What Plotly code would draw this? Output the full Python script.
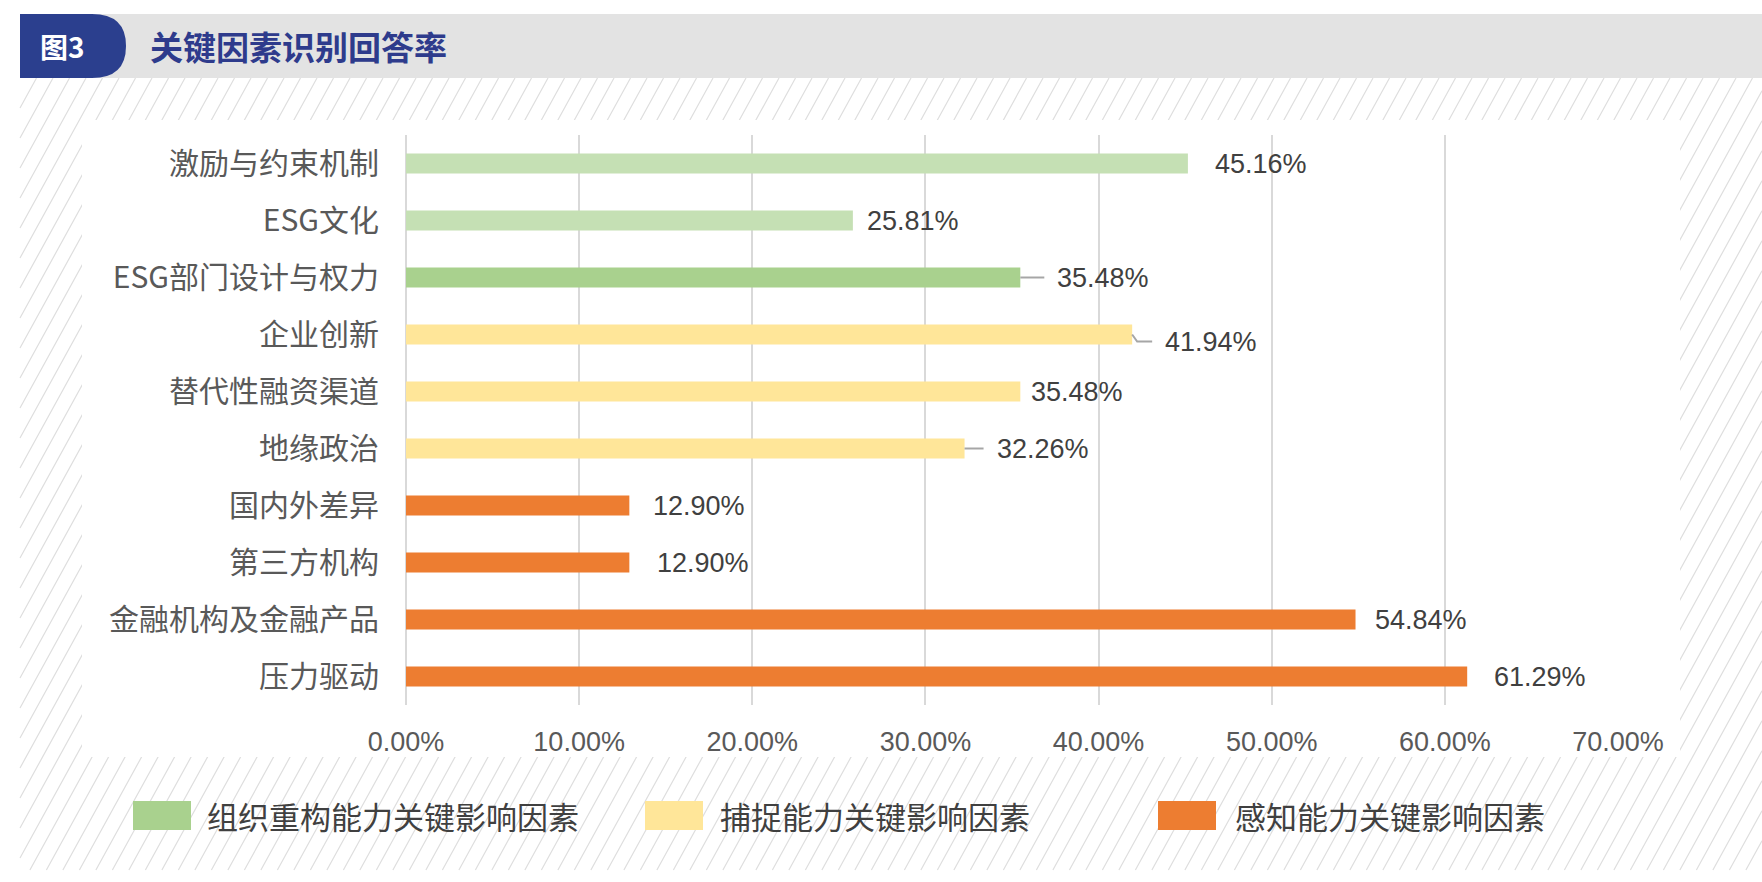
import plotly.graph_objects as go

# ---------------- data ----------------
categories = ["激励与约束机制", "ESG文化", "ESG部门设计与权力", "企业创新", "替代性融资渠道",
              "地缘政治", "国内外差异", "第三方机构", "金融机构及金融产品", "压力驱动"]
values = [0.4516, 0.2581, 0.3548, 0.4194, 0.3548, 0.3226, 0.1290, 0.1290, 0.5484, 0.6129]
groups = ["组织重构能力关键影响因素"] * 3 + ["捕捉能力关键影响因素"] * 3 + ["感知能力关键影响因素"] * 4
group_names = ["组织重构能力关键影响因素", "捕捉能力关键影响因素", "感知能力关键影响因素"]
x_ticks = [0, 0.1, 0.2, 0.3, 0.4, 0.5, 0.6, 0.7]
title_tag = "图3"
title_text = "关键因素识别回答率"

# ---------------- styles ----------------
bar_colors = ["#C5E0B4", "#C5E0B4", "#A9D18E", "#FFE699", "#FFE699", "#FFE699",
              "#ED7D31", "#ED7D31", "#ED7D31", "#ED7D31"]
legend_colors = ["#A9D18E", "#FFE699", "#ED7D31"]
label_gap_px = [25, 12, 35, 31, 9, 30, 22, 26, 17, 25]
label_dy_px = [0, 0, 0, 7, 0, 0, 0, 0, 0, 0]
leader_len_px = [0, 0, 24, 20, 0, 19, 0, 0, 0, 0]

W, H = 1762, 882
ML, MR, MT, MB = 406, 144, 135, 177
PW, PH = W - ML - MR, H - MT - MB


def px(x):
    return (x - ML) / PW


def py(y):
    return (H - MB - y) / PH


fig = go.Figure()
for g in group_names:
    idx = [i for i, gg in enumerate(groups) if gg == g]
    fig.add_trace(go.Bar(
        x=[values[i] for i in idx],
        y=[categories[i] for i in idx],
        orientation="h",
        name=g,
        width=0.35,
        marker=dict(color=[bar_colors[i] for i in idx], line=dict(width=0)),
        showlegend=False,
        hoverinfo="x+y",
    ))

shapes = []

# hatch background
HX0, HX1, HY0, HY1 = 20, 1762, 78, 870
s = 0.55
step = 16.5
path = []
c = HX0 - s * (HY1 - HY0)
while c < HX1:
    yb = HY1
    if c < HX0:
        yb = HY1 - (HX0 - c) / s
    yt = max(HY0, HY1 - (HX1 - c) / s)
    if yb > yt:
        xb = c + s * (HY1 - yb)
        xt = c + s * (HY1 - yt)
        path.append(f"M{px(xb):.5f},{py(yb):.5f}L{px(xt):.5f},{py(yt):.5f}")
    c += step
shapes.append(dict(type="path", xref="paper", yref="paper", path="".join(path),
                   line=dict(color="#DEDEDE", width=1.2), layer="below"))
# white chart panel
shapes.append(dict(type="rect", xref="paper", yref="paper",
                   x0=px(82), x1=px(1680), y0=py(757), y1=py(120),
                   fillcolor="white", line=dict(width=0), layer="below"))
# header band
shapes.append(dict(type="rect", xref="paper", yref="paper",
                   x0=px(20), x1=px(1762), y0=py(78), y1=py(14),
                   fillcolor="#E3E3E3", line=dict(width=0), layer="below"))
# header tab
tab = (f"M{px(20)},{py(14)} L{px(92)},{py(14)} Q{px(126)},{py(14)} {px(126)},{py(46)} "
       f"Q{px(126)},{py(78)} {px(92)},{py(78)} L{px(20)},{py(78)} Z")
shapes.append(dict(type="path", xref="paper", yref="paper", path=tab,
                   fillcolor="#2B3F8E", line=dict(width=0), layer="below"))

# leader lines
for i, v in enumerate(values):
    L = leader_len_px[i]
    if L <= 0:
        continue
    if label_dy_px[i]:
        d = label_dy_px[i]
        p = f"M0,0 L5,{-d} L{L},{-d}"
        shapes.append(dict(type="path", xref="x", yref="y", xsizemode="pixel", ysizemode="pixel",
                           xanchor=v, yanchor=i, path=p,
                           line=dict(color="#A6A6A6", width=2)))
    else:
        shapes.append(dict(type="line", xref="x", yref="y", xsizemode="pixel",
                           xanchor=v, x0=0, x1=L, y0=categories[i], y1=categories[i],
                           line=dict(color="#A6A6A6", width=2)))

# legend swatches
legend_x = [133, 645, 1158]
legend_text_x = [205, 718, 1233]
for k, g in enumerate(group_names):
    shapes.append(dict(type="rect", xref="paper", yref="paper",
                       x0=px(legend_x[k]), x1=px(legend_x[k] + 58),
                       y0=py(830), y1=py(801),
                       fillcolor=legend_colors[k], line=dict(width=0)))

annotations = []
for i, v in enumerate(values):
    annotations.append(dict(
        x=v, y=categories[i], xref="x", yref="y",
        text=f"{v * 100:.2f}%", showarrow=False,
        xanchor="left", yanchor="middle",
        xshift=label_gap_px[i], yshift=-label_dy_px[i],
        font=dict(family="Liberation Sans", size=27, color="#404040"),
    ))
for k, g in enumerate(group_names):
    annotations.append(dict(
        x=px(legend_text_x[k]), y=py(815), xref="paper", yref="paper",
        text=g, showarrow=False, xanchor="left", yanchor="middle",
        font=dict(family="Noto Sans CJK SC", size=31, color="#404040"),
    ))
annotations.append(dict(x=px(62), y=py(46), xref="paper", yref="paper", text=title_tag,
                        showarrow=False, xanchor="center", yanchor="middle",
                        font=dict(family="Noto Sans CJK SC", size=28, color="white", weight="bold")))
annotations.append(dict(x=px(148), y=py(46), xref="paper", yref="paper", text=title_text,
                        showarrow=False, xanchor="left", yanchor="middle",
                        font=dict(family="Noto Sans CJK SC", size=33, color="#2E3B8C", weight="bold")))

fig.update_layout(
    width=W, height=H,
    margin=dict(l=ML, r=MR, t=MT, b=MB, autoexpand=False),
    paper_bgcolor="white",
    plot_bgcolor="rgba(0,0,0,0)",
    barmode="overlay",
    shapes=shapes,
    annotations=annotations,
    showlegend=False,
    xaxis=dict(
        range=[0, 0.7], tickvals=x_ticks, tickformat=".2%",
        showgrid=True, gridcolor="#D9D9D9", gridwidth=2,
        zeroline=True, zerolinecolor="#D9D9D9", zerolinewidth=2,
        showline=False, ticks="", ticklabelstandoff=18,
        tickfont=dict(family="Liberation Sans", size=27, color="#595959"),
        fixedrange=True,
    ),
    yaxis=dict(
        type="category", categoryorder="array", categoryarray=categories,
        autorange="reversed", showgrid=False, zeroline=False, showline=False,
        ticks="", ticklabelstandoff=26,
        tickfont=dict(family="Noto Sans CJK SC", size=30, color="#595959"),
        fixedrange=True,
    ),
)

fig.write_html("out.html")
